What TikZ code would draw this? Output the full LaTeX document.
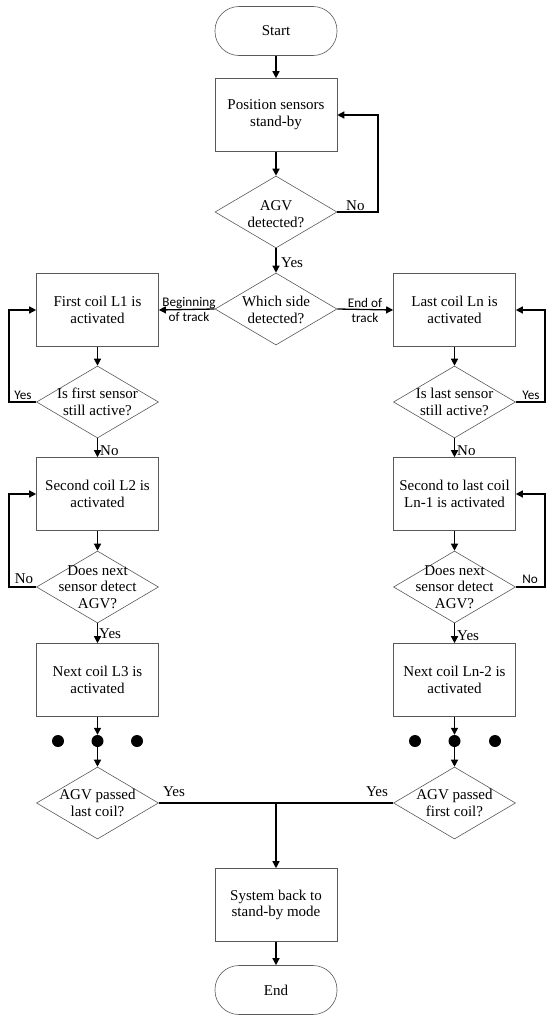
\documentclass[tikz,border=0pt]{standalone}
\usepackage{fontspec}
\setmainfont{Liberation Serif}
\newfontfamily\lblfont{Carlito}
\usetikzlibrary{shapes.geometric,arrows.meta}
\newcommand\mainfs{\fontsize{15}{16.8}\selectfont}
\newcommand\lblfs{\lblfont\fontsize{13.2}{15}\selectfont}
\begin{document}
\begin{tikzpicture}[x=1pt,y=-1pt,
 proc/.style={draw=black!65, line width=0.6pt, rectangle, minimum width=122pt, minimum height=73pt, align=center, font=\mainfs, inner sep=0pt},
 term/.style={draw=black!65, line width=0.6pt, rectangle, rounded corners=24pt, minimum width=122pt, minimum height=49pt, font=\mainfs},
 dec/.style={draw=black!65, line width=0.6pt, diamond, minimum width=122pt, minimum height=72pt, inner sep=0pt},
 dtext/.style={align=center, font=\mainfs, inner sep=0pt},
 conn/.style={line width=1.3pt, -{Triangle[length=7pt,width=7pt]}},
 plain/.style={line width=1.3pt},
 slbl/.style={font=\lblfs, inner sep=0pt},
 mlbl/.style={font=\mainfs, inner sep=0pt},
 dot/.style={circle, fill=black, minimum size=12pt, inner sep=0pt}
]
\useasboundingbox (0,0) rectangle (550,1020);

% main column
\node[term] (start) at (276,31) {Start};
\node[proc] (pos) at (276,115) {Position sensors\\stand-by};
\node[dec] (agv) at (276,212) {};
\node[dtext] (agvt) at (276,214) {AGV\\detected?};
\node[dec] (side) at (276,309) {};
\node[dtext] (sidet) at (276,310) {Which side\\detected?};

% left column
\node[proc] (L1) at (97.5,310) {First coil L1 is\\activated};
\node[dec] (s1) at (97.5,402) {};
\node[dtext] (s1t) at (97.5,402) {Is first sensor\\still active?};
\node[proc] (L2) at (97.5,494) {Second coil L2 is\\activated};
\node[dec] (nx1) at (97.5,587) {};
\node[dtext] (nx1t) at (97.5,587) {Does next\\sensor detect\\AGV?};
\node[proc] (L3) at (97.5,680) {Next coil L3 is\\activated};
\node[dot] (da1) at (58,741) {};
\node[dot] (db1) at (97.5,741) {};
\node[dot] (dc1) at (137,741) {};
\node[dec] (p1) at (97.5,803) {};
\node[dtext] (p1t) at (97.5,803) {AGV passed\\last coil?};

% right column
\node[proc] (Ln) at (454.5,310) {Last coil Ln is\\activated};
\node[dec] (sn) at (454.5,402) {};
\node[dtext] (snt) at (454.5,402) {Is last sensor\\still active?};
\node[proc] (Ln1) at (454.5,494) {Second to last coil\\Ln-1 is activated};
\node[dec] (nx2) at (454.5,587) {};
\node[dtext] (nx2t) at (454.5,587) {Does next\\sensor detect\\AGV?};
\node[proc] (Ln2) at (454.5,680) {Next coil Ln-2 is\\activated};
\node[dot] (da2) at (415,741) {};
\node[dot] (db2) at (454.5,741) {};
\node[dot] (dc2) at (495,741) {};
\node[dec] (p2) at (454.5,803) {};
\node[dtext] (p2t) at (454.5,803) {AGV passed\\first coil?};

% bottom
\node[proc] (sys) at (276,905) {System back to\\stand-by mode};
\node[term] (end) at (276,990) {End};

% loop coordinates
\coordinate (r0) at (378,115);
\coordinate (lA) at (9,310);
\coordinate (lB) at (9,494);
\coordinate (rA) at (545,310);
\coordinate (rB) at (545,494);
\coordinate (j) at (276,803);

% connectors
\draw[conn] (start) -- (pos);
\draw[conn] (pos) -- (agv);
\draw[conn] (agv.east) -| (r0) -- (pos.east);
\draw[conn] (agv) -- (side);
\draw[conn] (side.west) -- (L1.east);
\draw[conn] (side.east) -- (Ln.west);

\draw[conn] (L1) -- (s1);
\draw[conn] (s1.west) -| (lA) -- (L1.west);
\draw[conn] (s1) -- (L2);
\draw[conn] (L2) -- (nx1);
\draw[conn] (nx1.west) -| (lB) -- (L2.west);
\draw[conn] (nx1) -- (L3);
\draw[conn] (L3) -- (db1);
\draw[conn] (db1) -- (p1);

\draw[conn] (Ln) -- (sn);
\draw[conn] (sn.east) -| (rA) -- (Ln.east);
\draw[conn] (sn) -- (Ln1);
\draw[conn] (Ln1) -- (nx2);
\draw[conn] (nx2.east) -| (rB) -- (Ln1.east);
\draw[conn] (nx2) -- (Ln2);
\draw[conn] (Ln2) -- (db2);
\draw[conn] (db2) -- (p2);

\draw[plain] (p1.east) -- (p2.west);
\draw[conn] (j) -- (sys);
\draw[conn] (sys) -- (end);

% labels
\node[mlbl, anchor=south west] (lno0) at (346,211) {No};
\node[mlbl, anchor=west] (lyes0) at (281,263) {Yes};
\node[slbl, align=center] (lbeg) at (189,310) {Beginning\\of track};
\node[slbl, align=center] (lend) at (365,310) {End of\\track};
\node[slbl] (lyes1) at (23,395) {Yes};
\node[slbl] (lyes2) at (531,395) {Yes};
\node[mlbl, anchor=west] (lno1) at (100,451) {No};
\node[mlbl, anchor=west] (lno2) at (457,451) {No};
\node[mlbl] (lno3) at (24,579) {No};
\node[slbl] (lno4) at (530,579) {No};
\node[mlbl, anchor=west] (lyes3) at (99,634) {Yes};
\node[mlbl, anchor=west] (lyes4) at (457,636) {Yes};
\node[mlbl] (lyes5) at (174,792) {Yes};
\node[mlbl] (lyes6) at (377,792) {Yes};
\end{tikzpicture}
\end{document}
